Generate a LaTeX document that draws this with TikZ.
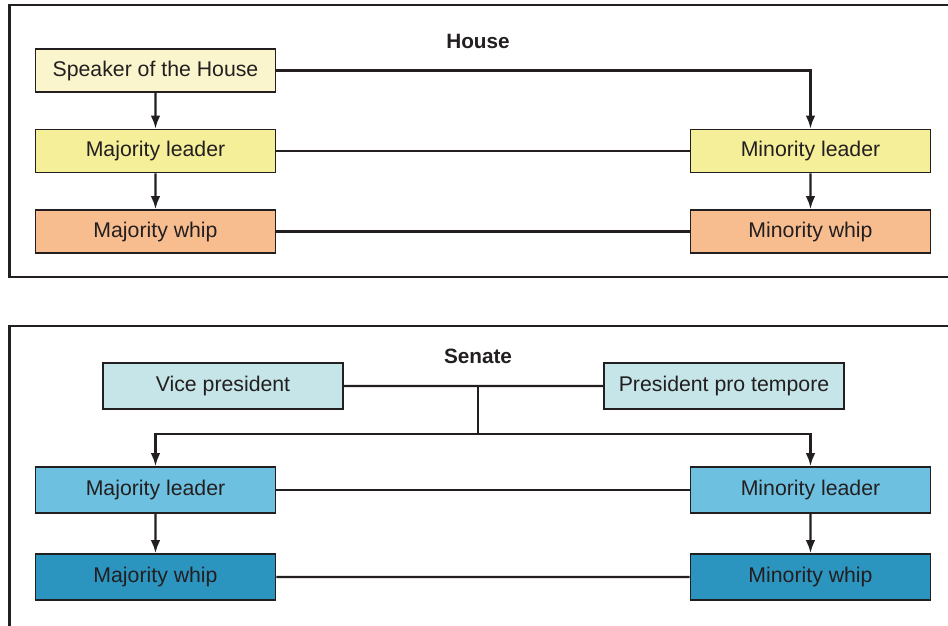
\documentclass[tikz,border=0pt]{standalone}
\usepackage{fontspec}
\setmainfont{Liberation Sans}
\usetikzlibrary{arrows.meta}
\definecolor{ink}{HTML}{231F20}
\definecolor{spkfill}{HTML}{FAF5CD}
\definecolor{hlead}{HTML}{F4EF98}
\definecolor{hwhip}{HTML}{F8BD8F}
\definecolor{vpfill}{HTML}{C5E5E8}
\definecolor{slead}{HTML}{6DC0E0}
\definecolor{swhip}{HTML}{2B94BF}

\begin{document}
\begin{tikzpicture}[scale=0.2]
	\tikzstyle{every node}+=[inner sep=0pt, text=ink]
	\tikzstyle{post}=[draw=ink, line width=0.9pt, minimum width=4.8cm, minimum height=0.86cm, font=\fontsize{12.1}{14}\selectfont]
	\tikzstyle{tall}=[post, minimum height=0.92cm]
	\tikzstyle{link}=[ink, line width=1.3pt]
	\tikzstyle{arr}=[link, -{Latex[length=2.6mm,width=1.9mm]}]
	\useasboundingbox (0,0) rectangle (94.8,-62.5);
	\clip (0,0) rectangle (94.8,-62.5);
	% House
	\draw [ink, line width=1.4pt] (0.95,-0.5) rectangle (100,-27.7);
	\node (house) at (47.8,-4.1) {\fontsize{11.8}{14}\selectfont\bfseries House};
	\node [post, fill=spkfill] (spk) at (15.55,-7.05) {Speaker of the House};
	\node [post, fill=hlead] (hml) at (15.55,-15.1) {Majority leader};
	\node [post, fill=hwhip] (hmw) at (15.55,-23.15) {Majority whip};
	\node [post, fill=hlead] (hnl) at (81.05,-15.1) {Minority leader};
	\node [post, fill=hwhip] (hnw) at (81.05,-23.15) {Minority whip};
	\draw [arr] (spk) -- (hml);
	\draw [arr] (hml) -- (hmw);
	\draw [arr] (spk.east) -| (hnl.north);
	\draw [arr] (hnl) -- (hnw);
	\draw [link] (hml) -- (hnl);
	\draw [link] (hmw) -- (hnw);
	% Senate
	\draw [ink, line width=1.4pt] (0.95,-32.6) rectangle (100,-70);
	\node (senate) at (47.8,-35.6) {\fontsize{11.8}{14}\selectfont\bfseries Senate};
	\node [tall, fill=vpfill] (vp) at (22.3,-38.6) {Vice president};
	\node [tall, fill=vpfill] (ppt) at (72.4,-38.6) {President pro tempore};
	\node [tall, fill=slead] (sml) at (15.55,-49) {Majority leader};
	\node [tall, fill=swhip] (smw) at (15.55,-57.7) {Majority whip};
	\node [tall, fill=slead] (snl) at (81.05,-49) {Minority leader};
	\node [tall, fill=swhip] (snw) at (81.05,-57.7) {Minority whip};
	\coordinate (hub) at (47.8,-38.6);
	\coordinate (fork) at (47.8,-43.4);
	\draw [link] (vp) -- (ppt);
	\draw [link] (hub) -- (fork);
	\draw [arr] (fork) -| (sml.north);
	\draw [arr] (fork) -| (snl.north);
	\draw [arr] (sml) -- (smw);
	\draw [arr] (snl) -- (snw);
	\draw [link] (sml) -- (snl);
	\draw [link] (smw) -- (snw);
\end{tikzpicture}
\end{document}
